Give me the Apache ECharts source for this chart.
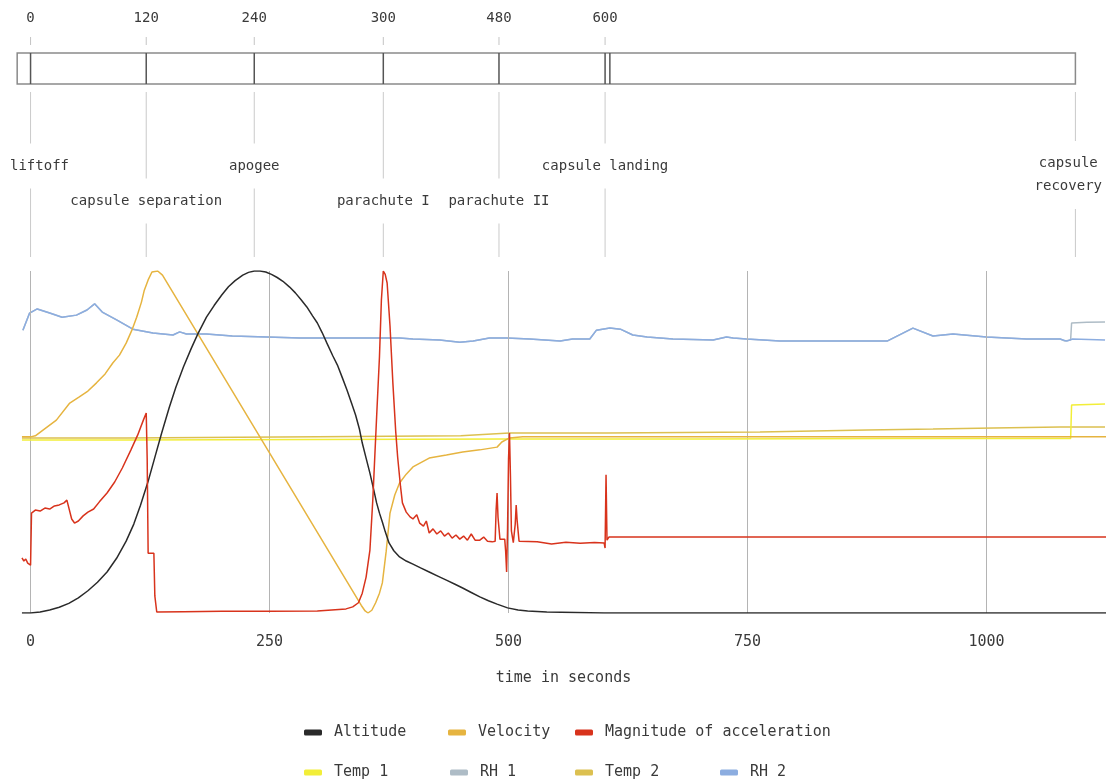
<!DOCTYPE html>
<html><head><meta charset="utf-8">
<script src="https://cdn.jsdelivr.net/npm/echarts@6/dist/echarts.min.js"></script>
<style>html,body{margin:0;padding:0;background:#fff}#chart{width:1114px;height:782px}</style>
</head><body><div id="chart"></div>
<script>
// ---------------- DATA (time in seconds, values in % of each series' range) ----------------
const xTickValues = [0, 250, 500, 750, 1000];
const eventNames = ['liftoff', 'capsule separation', 'apogee', 'parachute I', 'parachute II', 'capsule landing', 'capsule\nrecovery'];
const eventTimes = [0, 121, 234, 369, 490, 601, 1093];
const topTickLabels = ['0', '120', '240', '300', '480', '600'];
const timelineStart = -14;
const timelineEnd = 1093;
const timelineMarks = [0, 121, 234, 369, 490, 601, 606];

const seriesNames = ['Altitude', 'Velocity', 'Magnitude of acceleration', 'Temp 1', 'RH 1', 'Temp 2', 'RH 2'];

const altitude = [[-9,0],[0,0],[10,0.3],[20,0.9],[30,1.7],[40,2.8],[50,4.4],[60,6.5],[70,9.0],[80,12.0],[90,16.0],[100,21.0],[108,26.0],[115,31.5],[123,38.5],[130,45.5],[137,52.5],[145,60.0],[152,66.0],[160,72.0],[168,77.3],[175,81.6],[184,86.5],[192,89.9],[200,93.0],[207,95.4],[214,97.2],[222,98.8],[228,99.6],[234,100],[240,100],[246,99.7],[252,99.0],[258,98.1],[264,97.0],[271,95.3],[277,93.6],[283,91.6],[289,89.5],[295,86.9],[300,84.8],[305,82.0],[310,78.9],[316,75.3],[321,72.5],[326,68.9],[331,65.2],[336,61.2],[340,57.9],[344,53.8],[347,49.7],[351,45.3],[355,40.9],[359,36.0],[362,32.2],[365,29.2],[368,26.6],[371,23.8],[375,20.5],[380,18.2],[386,16.4],[393,15.2],[400,14.3],[408,13.2],[417,12.0],[426,10.8],[435,9.6],[444,8.4],[452,7.3],[461,6.0],[470,4.7],[479,3.6],[488,2.6],[499,1.5],[510,0.9],[520,0.6],[540,0.3],[600,0],[1125,0]];

const velocity = [[-9,51.5],[0,51.5],[5,51.8],[13,53.5],[27,56.4],[41,61.4],[51,63.2],[60,64.9],[69,67.3],[78,69.9],[86,73.1],[93,75.4],[100,78.9],[106,82.7],[111,86.5],[116,90.9],[119,94.4],[123,97.4],[127,99.7],[133,100],[138,98.8],[346,2.2],[350,0.6],[353,0],[357,0.8],[361,3.0],[365,5.8],[368,8.8],[372,18.0],[376,29.2],[381,34.5],[386,38.0],[393,40.6],[400,42.7],[417,45.3],[435,46.2],[452,47.1],[470,47.7],[488,48.5],[493,50.0],[501,51.2],[515,51.5],[1125,51.5]];

const acceleration = [[-9,16.1],[-7,15.2],[-5,15.8],[-3,14.6],[-1,14.9],[0,14.0],[1,29.2],[5,30.1],[10,29.8],[15,30.7],[20,30.4],[25,31.3],[30,31.6],[35,32.2],[38,33.0],[40,32.5],[43,27.5],[46,26.3],[50,26.9],[55,28.4],[60,29.5],[66,30.4],[72,32.5],[80,35.1],[88,38.3],[96,42.4],[105,47.7],[112,52.0],[118,56.4],[121,58.5],[122,45.0],[123,17.5],[129,17.5],[130,5.0],[132,0.3],[160,0.4],[200,0.5],[250,0.5],[300,0.6],[330,1.2],[337,1.8],[343,3.0],[347,5.8],[351,10.5],[355,18.4],[358,33.0],[362,57.3],[365,75.0],[367,91.5],[369,100],[371,99.0],[373,96.5],[376,84.0],[379,67.3],[382,53.0],[384,45.6],[387,37.0],[389,32.2],[393,29.5],[397,28.1],[400,27.5],[404,28.7],[407,26.3],[411,25.4],[414,26.9],[417,23.4],[421,24.6],[425,23.1],[429,24.0],[433,22.5],[437,23.4],[441,21.9],[445,22.8],[449,21.6],[453,22.5],[457,21.3],[461,23.1],[465,21.3],[470,21.3],[474,22.2],[478,21.0],[483,20.8],[486,21.0],[487,30.0],[488,35.1],[489,28.0],[491,21.6],[496,21.6],[497,18.0],[498,12.0],[499,25.0],[500,45.0],[501,52.6],[502,40.0],[503,24.0],[505,20.6],[507,26.0],[508,31.6],[509,27.0],[511,21.0],[513,20.5],[530,20.8],[545,20.2],[560,20.7],[575,20.4],[590,20.6],[600,20.5],[601,19.0],[602,40.4],[603,21.3],[605,22.2],[1125,22.2]];

const temp1 = [[-9,50.6],[100,50.6],[300,50.7],[500,50.9],[700,50.9],[900,51.0],[1088,51.0],[1089,60.8],[1124,61.1]];

const temp2 = [[-9,51.2],[100,51.2],[300,51.5],[450,51.8],[501,52.6],[603,52.6],[763,52.9],[875,53.5],[944,53.8],[1007,54.1],[1077,54.4],[1124,54.4]];

const rh2 = [[-8,82.7],[-1,87.7],[7,88.9],[20,87.7],[33,86.5],[48,87.1],[59,88.6],[67,90.4],[75,88.0],[90,85.7],[107,83.0],[128,81.9],[149,81.3],[156,82.2],[163,81.6],[184,81.6],[211,81.0],[247,80.7],[282,80.4],[316,80.4],[386,80.4],[400,80.1],[428,79.8],[449,79.2],[463,79.5],[480,80.4],[498,80.4],[522,80.1],[554,79.5],[567,80.1],[585,80.1],[592,82.7],[606,83.3],[617,83.0],[630,81.3],[645,80.7],[672,80.1],[714,79.8],[728,80.7],[735,80.4],[749,80.1],[784,79.5],[797,79.5],[850,79.5],[896,79.5],[923,83.3],[944,81.0],[965,81.6],[1000,80.7],[1042,80.1],[1077,80.1],[1084,79.5],[1090,80.1],[1124,79.8]];

const rh1 = [[-8,82.7],[-1,87.7],[7,88.9],[20,87.7],[33,86.5],[48,87.1],[59,88.6],[67,90.4],[75,88.0],[90,85.7],[107,83.0],[128,81.9],[149,81.3],[156,82.2],[163,81.6],[184,81.6],[211,81.0],[247,80.7],[282,80.4],[316,80.4],[386,80.4],[400,80.1],[428,79.8],[449,79.2],[463,79.5],[480,80.4],[498,80.4],[522,80.1],[554,79.5],[567,80.1],[585,80.1],[592,82.7],[606,83.3],[617,83.0],[630,81.3],[645,80.7],[672,80.1],[714,79.8],[728,80.7],[735,80.4],[749,80.1],[784,79.5],[797,79.5],[850,79.5],[896,79.5],[923,83.3],[944,81.0],[965,81.6],[1000,80.7],[1042,80.1],[1077,80.1],[1082,79.5],[1088,79.8],[1089,84.8],[1105,85.0],[1124,85.1]];

// ---------------- LAYOUT / STYLE ----------------
const FONT = "'DejaVu Sans Mono','Liberation Mono',monospace";
const TEXT = '#3a3a3a';
const X_MIN = -10, X_MAX = 1125;
const GRID_LEFT = 21, GRID_RIGHT = 8;
const L = { tickLabelY: 18, tickTop: 37, tickBottom: 45, barTop: 53, barBottom: 84, connTop: 92, connBottom: 257,
            labelRowY: [166, 201, 175], labelMinX: 10, labelMaxX: 1102 };
const eventLabelRow = [0, 1, 0, 1, 1, 0, 2];
const colors = { 'Altitude': '#2a2a2a', 'Velocity': '#e6b440', 'Magnitude of acceleration': '#d8331c',
                 'Temp 1': '#f2ee38', 'RH 1': '#aebcc6', 'Temp 2': '#dcc050', 'RH 2': '#8cade0' };
const legendPos = [[304,725],[448,725],[575,725],[304,765],[450,765],[575,765],[720,765]];
const seriesData = { 'Altitude': altitude, 'Velocity': velocity, 'Magnitude of acceleration': acceleration,
                     'Temp 1': temp1, 'RH 1': rh1, 'Temp 2': temp2, 'RH 2': rh2 };
const drawOrder = ['RH 1', 'RH 2', 'Temp 2', 'Temp 1', 'Velocity', 'Altitude', 'Magnitude of acceleration'];

function seg(a, b, color, w) {
  return { type: 'line', shape: { x1: a[0], y1: a[1], x2: b[0], y2: b[1] }, style: { stroke: color, lineWidth: w || 1 } };
}

const lineSeries = drawOrder.map((name, k) => ({
  name, type: 'line', xAxisIndex: 0, yAxisIndex: 0, data: seriesData[name],
  showSymbol: false, symbol: 'none', color: colors[name], z: 3 + k,
  lineStyle: { width: 1.5, color: colors[name] }, silent: true
}));

const option = {
  animation: false,
  backgroundColor: '#fff',
  textStyle: { fontFamily: FONT },
  grid: [
    { left: GRID_LEFT, right: GRID_RIGHT, top: 271, bottom: 169 },
    { left: GRID_LEFT, right: GRID_RIGHT, top: 0, height: 260 }
  ],
  xAxis: [
    { type: 'value', gridIndex: 0, min: X_MIN, max: X_MAX,
      axisLine: { show: false }, axisTick: { show: false }, splitLine: { show: false },
      axisLabel: { customValues: xTickValues, formatter: v => String(v), color: TEXT, fontFamily: FONT, fontSize: 15, margin: 22 },
      name: 'time in seconds', nameLocation: 'middle', nameGap: 58,
      nameTextStyle: { color: TEXT, fontFamily: FONT, fontSize: 15 } },
    { type: 'value', gridIndex: 1, min: X_MIN, max: X_MAX, show: false }
  ],
  yAxis: [
    { type: 'value', gridIndex: 0, min: 0, max: 100, show: false },
    { type: 'value', gridIndex: 1, min: 0, max: 260, inverse: true, show: false }
  ],
  legend: seriesNames.map((n, i) => ({
    data: [n], left: legendPos[i][0], top: legendPos[i][1], padding: 0,
    itemWidth: 18, itemHeight: 6, icon: 'roundRect', selectedMode: false,
    textStyle: { color: TEXT, fontFamily: FONT, fontSize: 15, padding: [0, 0, 0, 7] }
  })),
  series: [
    { type: 'line', xAxisIndex: 0, yAxisIndex: 0, data: [], silent: true, z: 1,
      markLine: { symbol: 'none', silent: true, label: { show: false },
        lineStyle: { color: '#b4b4b4', width: 1, type: 'solid' },
        data: xTickValues.map(v => ({ xAxis: v })) } },
    ...lineSeries,
    { type: 'custom', xAxisIndex: 1, yAxisIndex: 1, clip: false, silent: true,
      data: [[timelineStart, timelineEnd]],
      renderItem(params, api) {
        const s = api.value(0), e = api.value(1);
        const p0 = api.coord([s, L.barTop]), p1 = api.coord([e, L.barBottom]);
        const children = [{ type: 'rect', shape: { x: p0[0], y: p0[1], width: p1[0] - p0[0], height: p1[1] - p0[1] },
                            style: { fill: '#fff', stroke: '#8a8a8a', lineWidth: 1.5 } }];
        timelineMarks.forEach(t => children.push(seg(api.coord([t, L.barTop]), api.coord([t, L.barBottom]), '#555', 1.5)));
        return { type: 'group', children };
      } },
    { type: 'custom', xAxisIndex: 1, yAxisIndex: 1, clip: false, silent: true,
      data: eventTimes.map((t, i) => [t, i]),
      renderItem(params, api) {
        const i = params.dataIndex, t = api.value(0);
        const at = y => api.coord([t, y]);
        const children = [];
        if (i < topTickLabels.length) {
          children.push(seg(at(L.tickTop), at(L.tickBottom), '#c4c4c4', 1));
          const c = at(L.tickLabelY);
          children.push({ type: 'text', style: { text: topTickLabels[i], x: c[0], y: c[1], align: 'center', verticalAlign: 'middle',
                          fill: TEXT, fontFamily: FONT, fontSize: 14 } });
        }
        children.push(seg(at(L.connTop), at(L.connBottom), '#cacaca', 1));
        const lp = at(L.labelRowY[eventLabelRow[i]]);
        const lines = eventNames[i].split('\n');
        const w = Math.max(...lines.map(s => s.length)) * 14 * 0.602;
        const lx = Math.min(Math.max(lp[0], L.labelMinX + w / 2), L.labelMaxX - w / 2);
        children.push({ type: 'text', style: { text: eventNames[i], x: lx, y: lp[1], align: 'center', verticalAlign: 'middle',
                        fill: TEXT, fontFamily: FONT, fontSize: 14, lineHeight: 23, backgroundColor: '#fff', padding: [11, 6] } });
        return { type: 'group', children };
      } }
  ]
};

const chart = echarts.init(document.getElementById('chart'), null, { renderer: 'canvas' });
chart.setOption(option);
</script></body></html>
